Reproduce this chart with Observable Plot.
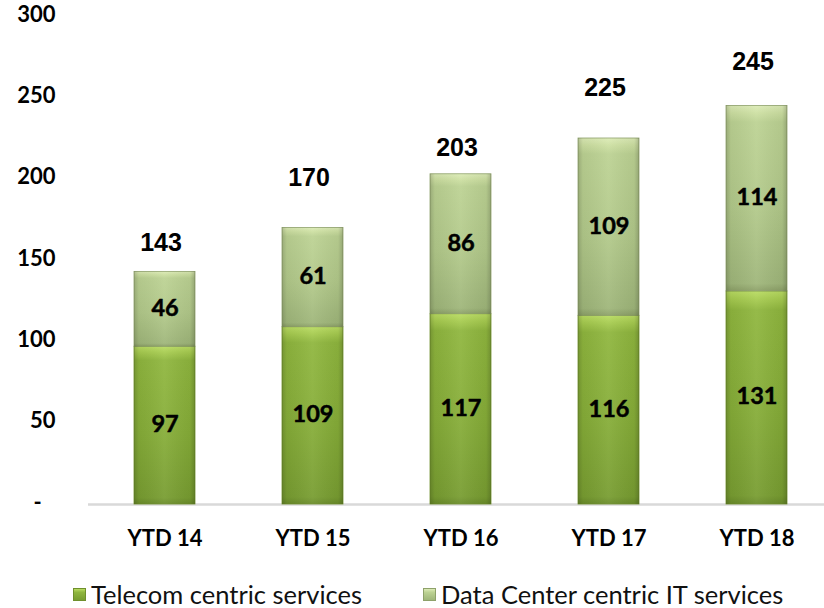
<!DOCTYPE html>
<html>
<head>
<meta charset="utf-8">
<script src="https://cdn.jsdelivr.net/npm/d3@7"></script>
<script src="https://cdn.jsdelivr.net/npm/@observablehq/plot@0.6"></script>
<style>
  html, body { margin: 0; padding: 0; background: #fff; }
  body { width: 824px; height: 608px; position: relative; overflow: hidden; font-family: Lato, "Open Sans", sans-serif; }
  #chart { position: absolute; left: 0; top: 0; }
  .legend-item { position: absolute; top: 582px; display: flex; align-items: center; font-size: 25.5px; color: #111; white-space: nowrap; line-height: 24px; height: 24px; }
  .sw { width: 13px; height: 13px; margin-right: 5px; box-sizing: border-box; }
</style>
</head>
<body>
<div id="chart"></div>
<div id="legend"></div>
<script>
// ---- data ----
const periods = ["YTD 14", "YTD 15", "YTD 16", "YTD 17", "YTD 18"];
const telecom = [97, 109, 117, 116, 131];
const dataCenter = [46, 61, 86, 109, 114];
const totals = [143, 170, 203, 225, 245];
const totalLabelAt = [161, 201, 219, 256, 272]; // hidden label series (value units)
const yTicks = [0, 50, 100, 150, 200, 250, 300];
const seriesNames = ["Telecom centric services", "Data Center centric IT services"];

// ---- derived tables ----
const rows = periods.map((p, i) => ({
  period: p,
  telecom: telecom[i],
  dc: dataCenter[i],
  base: telecom[i],
  top: telecom[i] + dataCenter[i],
  total: totals[i],
  labelAt: totalLabelAt[i]
}));

const defs = () => {
  const svg = d3.create("svg:defs");
  const mk = (id, stops, horiz) => {
    const g = svg.append("linearGradient").attr("id", id)
      .attr("x1", 0).attr("y1", 0).attr("x2", horiz ? 1 : 0).attr("y2", horiz ? 0 : 1);
    stops.forEach(([o, c, a]) => g.append("stop").attr("offset", o).attr("stop-color", c).attr("stop-opacity", a == null ? 1 : a));
  };
  mk("gTel", [["0%", "#b9dc62"], ["4%", "#a6cb4f"], ["9%", "#8fb63e"], ["55%", "#86ad38"], ["96%", "#789d31"], ["100%", "#6a8c2a"]]);
  mk("gDC", [["0%", "#dcebb6"], ["4%", "#cde0a2"], ["9%", "#bcd293"], ["55%", "#b2c98a"], ["96%", "#9fb67a"], ["100%", "#8ca068"]]);
  mk("gShade", [["0%", "#000", 0.18], ["8%", "#000", 0.05], ["50%", "#fff", 0.06], ["92%", "#000", 0.05], ["100%", "#000", 0.2]], true);
  return svg.node();
};

const boldText = { fontWeight: "bold", fill: "#000", stroke: "#000", strokeWidth: 0.5 };

const chart = Plot.plot({
  width: 824,
  height: 560,
  marginLeft: 88,
  marginRight: 0,
  marginTop: 16,
  marginBottom: 56,
  style: { fontFamily: "Lato, 'Open Sans', sans-serif", color: "#000", background: "#fff", overflow: "visible" },
  x: { type: "band", domain: periods, range: [88.75, 831.25], paddingInner: 0.59, paddingOuter: 0.295, align: 0.5, label: null },
  y: { domain: [0, 300], label: null },
  marks: [
    defs,
    Plot.ruleY([0], { stroke: "#d9d9d9", strokeWidth: 2.5 }),
    Plot.barY(rows, { x: "period", y1: 0, y2: "base", fill: "url(#gTel)", stroke: "#6f8f2c", strokeWidth: 0.8, inset: 0 }),
    Plot.barY(rows, { x: "period", y1: "base", y2: "top", fill: "url(#gDC)", stroke: "#8ea16a", strokeWidth: 0.8, inset: 0 }),
    Plot.barY(rows, { x: "period", y1: 0, y2: "top", fill: "url(#gShade)", inset: 0 }),
    Plot.text(rows, { x: "period", y: d => d.base / 2, text: d => String(d.telecom), fontSize: 23.5, ...boldText, dy: -1 }),
    Plot.text(rows, { x: "period", y: d => d.base + d.dc / 2, text: d => String(d.dc), fontSize: 23.5, ...boldText, dy: -1 }),
    Plot.text(rows, { x: "period", y: "labelAt", text: d => String(d.total), fontSize: 25, fontWeight: "bold", fill: "#000", fontFamily: "'Liberation Sans', Arial, sans-serif", dx: -4 }),
    Plot.axisY(yTicks, { tickSize: 0, tickPadding: 33, fontSize: 22, ...boldText, dy: -2,
      tickFormat: d => d === 0 ? "-\u2002\u2009" : String(d) }),
    Plot.axisX({ tickSize: 0, tickPadding: 26, fontSize: 22, ...boldText, label: null })
  ]
});
document.getElementById("chart").appendChild(chart);

// ---- legend ----
const legend = document.getElementById("legend");
const swatches = [
  "linear-gradient(#b9dc62 0%, #8fb63e 30%, #789d31 100%)",
  "linear-gradient(#dcebb6 0%, #bcd293 30%, #9fb67a 100%)"
];
const borders = ["#6f8f2c", "#8ea16a"];
const lefts = [73, 423];
seriesNames.forEach((name, i) => {
  const item = document.createElement("div");
  item.className = "legend-item";
  item.style.left = lefts[i] + "px";
  const sw = document.createElement("span");
  sw.className = "sw";
  sw.style.background = swatches[i];
  sw.style.border = "1px solid " + borders[i];
  const tx = document.createElement("span");
  tx.textContent = name;
  item.appendChild(sw);
  item.appendChild(tx);
  legend.appendChild(item);
});
</script>
</body>
</html>
